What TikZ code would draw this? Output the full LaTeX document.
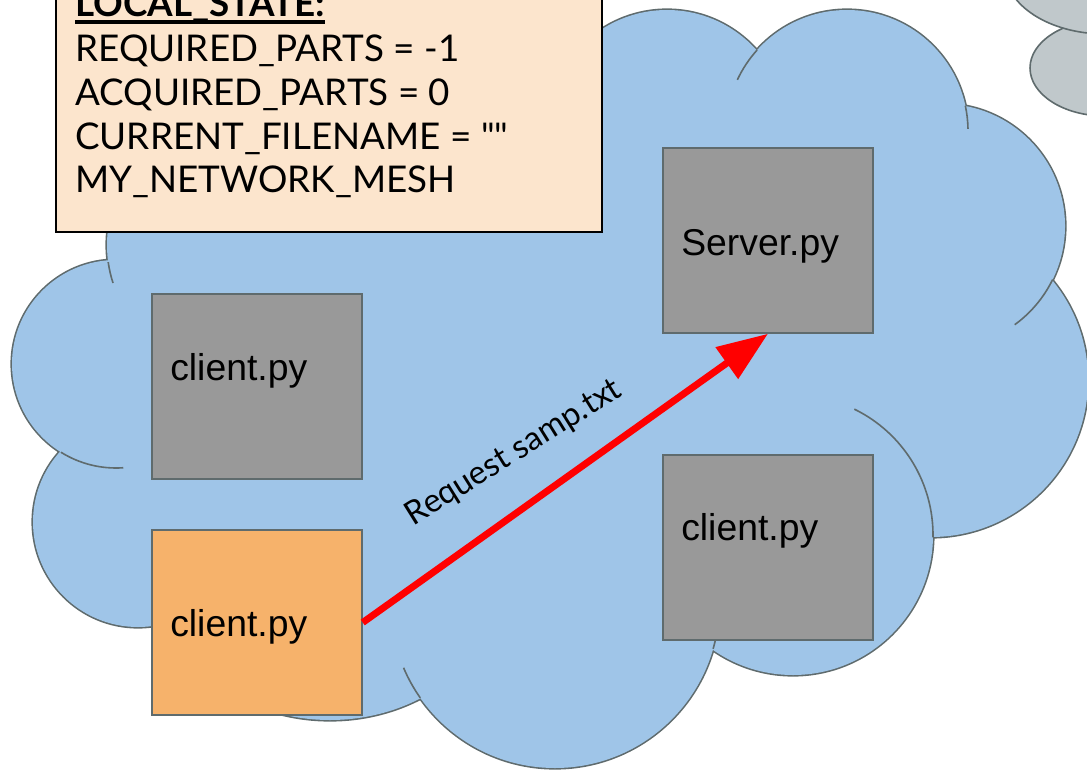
\documentclass[tikz,border=0pt]{standalone}
\usepackage{fontspec}
\setmainfont{Liberation Sans}
\newfontfamily\latofont{Lato}
\usetikzlibrary{arrows.meta,calc}
\definecolor{cloudfill}{HTML}{9FC5E8}
\definecolor{cloudedge}{HTML}{5F6B6D}
\definecolor{greycloud}{HTML}{C0C8CB}
\definecolor{boxgrey}{HTML}{999999}
\definecolor{boxedge}{HTML}{5F6B6D}
\definecolor{procorange}{HTML}{F6B26B}
\definecolor{statefill}{HTML}{FCE5CD}
\begin{document}
\begin{tikzpicture}[x=0.75pt,y=-0.75pt,
  proc/.style={draw=boxedge, line width=1.1pt, minimum width=157.5pt,
    minimum height=138.75pt, inner sep=0pt},
  idle/.style={proc, fill=boxgrey},
  active/.style={proc, fill=procorange},
  proclabel/.style={anchor=base west, inner sep=0pt, font=\fontsize{28}{33}\selectfont},
  statetxt/.style={anchor=base west, inner sep=0pt, font=\latofont\fontsize{27.6}{33}\selectfont},
  edgeout/.style={draw=cloudedge, line width=2.4pt},
  edgein/.style={draw=cloudedge, line width=1.2pt},
]
\useasboundingbox (0,0) rectangle (1087,770);
\clip (0,0) rectangle (1087,770);

% grey cloud in the corner
\filldraw[fill=greycloud, draw=cloudedge, line width=1.2pt]
  (1105,68) circle[x radius=75, y radius=48];
\filldraw[fill=greycloud, draw=cloudedge, line width=1.2pt]
  (1105,-30) circle[x radius=100, y radius=64];

% blue cloud: outer strokes first, then the fills hide the inner halves
\begin{scope}[edgeout]
  \draw (230,245) circle[radius=123];
  \draw (667,130) circle[radius=120];
  \draw (847,131) circle[radius=121];
  \draw (943,226) circle[radius=122];
  \draw (931,380) circle[radius=157];
  \draw (793,535) circle[radius=140];
  \draw (555,603.5) circle[radius=164.5];
  \draw (330,560) circle[x radius=180, y radius=160];
  \draw (138,522) circle[radius=105];
  \draw (116,364) circle[radius=104];
\end{scope}
\begin{scope}[cloudfill]
  \fill (230,245) circle[radius=123];
  \fill (667,130) circle[radius=120];
  \fill (847,131) circle[radius=121];
  \fill (943,226) circle[radius=122];
  \fill (931,380) circle[radius=157];
  \fill (793,535) circle[radius=140];
  \fill (555,603.5) circle[radius=164.5];
  \fill (330,560) circle[x radius=180, y radius=160];
  \fill (138,522) circle[radius=105];
  \fill (116,364) circle[radius=104];
  \fill (230,245) -- (667,130) -- (847,131) -- (943,226) -- (931,380)
    -- (793,535) -- (555,603.5) -- (330,560) -- (138,522) -- (116,364) -- cycle;
\end{scope}
% short inner arcs where the lobes overlap
\draw[edgein] ($(230,245)+(172:123)$) arc[start angle=172, end angle=162, radius=123];
\draw[edgein] ($(116,364)+(122:104)$) arc[start angle=122, end angle=86, radius=104];
\draw[edgein] ($(555,603.5)+(145:164.5)$) arc[start angle=145, end angle=157, radius=164.5];
\draw[edgein] ($(555,603.5)+(16:164.5)$) arc[start angle=16, end angle=4, radius=164.5];
\draw[edgein] ($(793,535)+(-64:140)$) arc[start angle=-64, end angle=1, radius=140];
\draw[edgein] ($(943,226)+(26:122)$) arc[start angle=26, end angle=54, radius=122];
\draw[edgein] ($(847,131)+(-12:121)$) arc[start angle=-12, end angle=-1, radius=121];
\draw[edgein] ($(847,131)+(-138:121)$) arc[start angle=-138, end angle=-155, radius=121];

% processes
\node[idle]   (c1)  at (257,386.5) {};
\node[active] (me)  at (257,622.5) {};
\node[idle]   (srv) at (768,240.5) {};
\node[idle]   (c3)  at (768,547.5) {};
\node[proclabel] (c1t)  at (170,380) {client.py};
\node[proclabel] (met)  at (170,636) {client.py};
\node[proclabel] (srvt) at (681,255) {Server.py};
\node[proclabel] (c3t)  at (681,540) {client.py};

% request
\draw[red, line width=5.2pt, -{Triangle[length=38pt,width=28pt]}] (me.east) -- (srv.south);
\node[font=\latofont\fontsize{24.5}{28}\selectfont, rotate=32, inner sep=0pt] (req)
  at (514,453) {Request samp.txt};

% local state panel
\node[draw=black, line width=1.5pt, fill=statefill, minimum width=409.5pt,
  minimum height=196.5pt, inner sep=0pt] (state) at (329,101) {};
\node[statetxt, font=\latofont\bfseries\fontsize{27.6}{33}\selectfont] (ls) at (75,16.7) {LOCAL\_STATE:};
\draw[line width=2.5pt] ([yshift=-4pt]ls.base west) -- ([yshift=-4pt]ls.base east);
\node[statetxt] (s1) at (75,62) {REQUIRED\_PARTS = -1};
\node[statetxt] (s2) at (75,105.5) {ACQUIRED\_PARTS = 0};
\node[statetxt] (s3) at (75,149) {CURRENT\_FILENAME = ""};
\node[statetxt] (s4) at (75,192.5) {MY\_NETWORK\_MESH};
\end{tikzpicture}
\end{document}
